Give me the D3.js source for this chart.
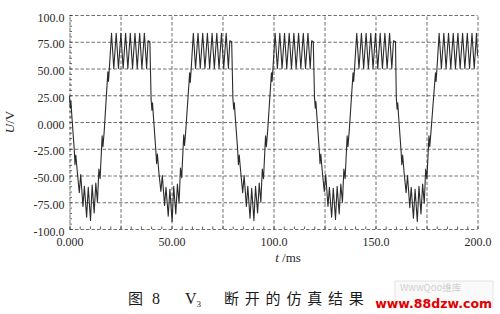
<!DOCTYPE html>
<html>
<head>
<meta charset="utf-8">
<script src="https://cdn.jsdelivr.net/npm/d3@7"></script>
<style>
body { margin: 0; background: #fff; }
.axis text { font-family: "Liberation Serif", "DejaVu Serif", serif; font-size: 12px; fill: #2a2a2a; }
.axis line { stroke: #333; stroke-width: 0.8; }
.axis path { display: none; }
.grid line { stroke: #4a4a4a; stroke-width: 0.8; stroke-dasharray: 3.5,2; }
.grid path { display: none; }
.wave { fill: none; stroke: #2b2b2b; stroke-width: 1.1; stroke-linejoin: round; }
</style>
</head>
<body>
<svg id="chart"></svg>
<script>
// tick values + labels
const timeTicks = [0, 50, 100, 150, 200];
const timeLabels = ['0.000', '50.00', '100.0', '150.0', '200.0'];
const voltTicks = [-100, -75, -50, -25, 0, 25, 50, 75, 100];
const voltLabels = ['-100.0', '-75.00', '-50.00', '-25.00', '0.000', '25.00', '50.00', '75.00', '100.0'];
const gridTime = [25, 50, 75, 100, 125, 150, 175, 200];
const gridVolt = [-75, -50, -25, 0, 25, 50, 75, 100];

// waveform [t ms, U V], one array per 40 ms cycle
const cycle1 = [[0.0, 24], [0.4, 13], [0.7, 19], [1.1, 7], [2.3, -25], [2.7, -40], [3.1, -31], [3.8, -46], [4.8, -66], [5.5, -49], [6.6, -79], [7.3, -60], [8.4, -89], [9.2, -61], [10.3, -92], [11.1, -59], [12.1, -85], [12.9, -57], [13.7, -75], [14.4, -44], [15.0, -53], [16.0, -13], [16.4, -23], [17.0, -9], [18.8, 47], [19.1, 38], [19.6, 52], [20.6, 83], [21.7, 50], [22.9, 83], [24.0, 50], [25.2, 83], [26.3, 50], [27.5, 83], [28.6, 50], [29.8, 83], [30.9, 50], [32.1, 83], [33.2, 50], [34.4, 83], [35.5, 50], [36.7, 83], [37.8, 50], [38.5, 76], [39.4, 75]];
const cycle2 = [[40.0, 21], [40.4, 11], [40.7, 18], [41.1, 6], [42.3, -26], [42.7, -39], [43.1, -30], [43.8, -47], [44.8, -65], [45.5, -50], [46.6, -78], [47.3, -61], [48.4, -88], [49.2, -63], [50.3, -93], [51.1, -60], [52.1, -86], [52.9, -58], [53.7, -76], [54.4, -43], [55.0, -52], [56.0, -12], [56.4, -22], [57.0, -8], [58.9, 46], [59.2, 37], [59.7, 51], [60.7, 83], [61.8, 50], [63.0, 83], [64.1, 50], [65.3, 83], [66.4, 50], [67.6, 83], [68.7, 50], [69.9, 83], [71.0, 50], [72.2, 83], [73.3, 50], [74.5, 83], [75.6, 50], [76.8, 83], [77.9, 50], [78.6, 76], [79.5, 75]];
const cycle3 = [[80.1, 22], [80.5, 12], [80.8, 18], [81.2, 6], [82.4, -25], [82.8, -40], [83.2, -31], [83.9, -46], [84.9, -66], [85.6, -50], [86.7, -79], [87.4, -60], [88.5, -90], [89.3, -62], [90.4, -92], [91.2, -60], [92.2, -85], [93.0, -57], [93.8, -75], [94.5, -44], [95.1, -53], [96.1, -13], [96.5, -23], [97.1, -9], [99.0, 46], [99.3, 38], [99.8, 52], [100.8, 83], [101.9, 50], [103.1, 83], [104.2, 50], [105.4, 83], [106.5, 50], [107.7, 83], [108.8, 50], [110.0, 83], [111.1, 50], [112.3, 83], [113.4, 50], [114.6, 83], [115.7, 50], [116.9, 83], [118.0, 50], [118.7, 76], [119.5, 75]];
const cycle4 = [[120.1, 23], [120.5, 13], [120.8, 19], [121.2, 7], [122.4, -25], [122.8, -39], [123.2, -30], [123.9, -46], [124.9, -65], [125.6, -49], [126.7, -79], [127.4, -61], [128.5, -89], [129.3, -62], [130.4, -91], [131.2, -60], [132.2, -86], [133.0, -58], [133.8, -75], [134.5, -44], [135.1, -53], [136.1, -13], [136.5, -23], [137.1, -9], [139.0, 46], [139.3, 38], [139.8, 52], [140.8, 83], [141.9, 50], [143.1, 83], [144.2, 50], [145.4, 83], [146.5, 50], [147.7, 83], [148.8, 50], [150.0, 83], [151.1, 50], [152.3, 83], [153.4, 50], [154.6, 83], [155.7, 50], [156.9, 83], [158.0, 50], [158.8, 76], [159.8, 75]];
const cycle5 = [[160.2, 22], [160.6, 12], [160.9, 18], [161.3, 6], [162.5, -26], [162.9, -40], [163.3, -31], [164.0, -47], [165.0, -66], [165.7, -50], [166.8, -80], [167.5, -61], [168.6, -90], [169.4, -63], [170.5, -93], [171.3, -60], [172.3, -86], [173.1, -58], [173.9, -76], [174.6, -44], [175.2, -53], [176.2, -13], [176.6, -23], [177.2, -9], [179.4, 46], [179.7, 38], [180.2, 52], [181.2, 83], [182.3, 50], [183.5, 83], [184.6, 50], [185.8, 83], [186.9, 50], [188.1, 83], [189.2, 50], [190.4, 83], [191.5, 50], [192.7, 83], [193.8, 50], [195.0, 83], [196.1, 50], [197.3, 83], [198.4, 50], [199.5, 83], [200.0, 62]];

class WaveChart {
    constructor(_config, _data) {
        this.config = {
            parentElement: _config.parentElement,
            containerWidth: _config.containerWidth || 500,
            containerHeight: _config.containerHeight || 314,
            margin: _config.margin || { top: 15, right: 22.5, bottom: 85, left: 69.5 }
        };
        this.data = _data;
        this.initApp();
    }
    initApp() {
        let app = this;
        app.width = app.config.containerWidth - app.config.margin.left - app.config.margin.right;
        app.height = app.config.containerHeight - app.config.margin.top - app.config.margin.bottom;
        app.xScale = d3.scaleLinear().domain([0, 200]).range([0, app.width]);
        app.yScale = d3.scaleLinear().domain([-100, 100]).range([app.height, 0]);
        app.svg = d3.select(app.config.parentElement)
            .attr('width', app.config.containerWidth)
            .attr('height', app.config.containerHeight);
        app.svg.append('rect').attr('width', app.config.containerWidth).attr('height', app.config.containerHeight).attr('fill', '#fff');
        app.chart = app.svg.append('g').attr('transform', `translate(${app.config.margin.left},${app.config.margin.top})`);
        app.renderApp();
    }
    renderApp() {
        let app = this;
        // dashed grid, includes top/right border
        app.chart.append('g').attr('class', 'grid')
            .call(d3.axisLeft(app.yScale).tickValues(gridVolt).tickSize(-app.width).tickFormat(''));
        app.chart.append('g').attr('class', 'grid')
            .attr('transform', `translate(0,${app.height})`)
            .call(d3.axisBottom(app.xScale).tickValues(gridTime).tickSize(-app.height).tickFormat(''));
        // dashed axis lines
        app.chart.append('g').attr('class', 'grid')
            .call(d3.axisLeft(app.yScale).tickValues([-100]).tickSize(-app.width).tickFormat(''));
        app.chart.append('g').attr('class', 'grid')
            .attr('transform', `translate(0,${app.height})`)
            .call(d3.axisBottom(app.xScale).tickValues([0]).tickSize(-app.height).tickFormat(''));

        // minor ticks pointing inward
        app.chart.append('g').attr('class', 'axis')
            .call(d3.axisLeft(app.yScale).tickValues(d3.range(-100, 101, 5)).tickSize(-2.5).tickFormat(''));
        app.chart.append('g').attr('class', 'axis')
            .attr('transform', `translate(0,${app.height})`)
            .call(d3.axisBottom(app.xScale).tickValues(d3.range(0, 201, 5)).tickSize(-2.5).tickFormat(''));

        // labels
        app.chart.append('g').attr('class', 'axis')
            .call(d3.axisLeft(app.yScale).tickValues(voltTicks).tickSize(0).tickPadding(5)
                .tickFormat((d, i) => voltLabels[i]))
            .selectAll('text').attr('dy', '0.5em');
        app.chart.append('g').attr('class', 'axis')
            .attr('transform', `translate(0,${app.height})`)
            .call(d3.axisBottom(app.xScale).tickValues(timeTicks).tickSize(0).tickPadding(8)
                .tickFormat((d, i) => timeLabels[i]));

        // waveform
        app.line = d3.line().x(d => app.xScale(d[0])).y(d => app.yScale(d[1]));
        app.chart.append('path').datum(app.data).attr('class', 'wave').attr('d', app.line);

        // axis titles
        const yt = app.svg.append('text')
            .attr('transform', 'translate(14,122) rotate(-90)')
            .attr('text-anchor', 'middle')
            .style('font-family', '"Liberation Serif", serif').style('font-size', '13px').style('fill', '#2a2a2a');
        yt.append('tspan').style('font-style', 'italic').text('U');
        yt.append('tspan').text('/V');
        const xt = app.svg.append('text')
            .attr('x', 288).attr('y', 262)
            .attr('text-anchor', 'middle')
            .style('font-family', '"Liberation Serif", serif').style('font-size', '13px').style('fill', '#2a2a2a');
        xt.append('tspan').style('font-style', 'italic').text('t');
        xt.append('tspan').text(' /ms');

        // caption
        const cap = app.svg.append('g').style('fill', '#1a1a1a');
        cap.append('text').attr('x', 128).attr('y', 304)
            .style('font-family', '"Noto Sans CJK SC", sans-serif').style('font-size', '15px').text('图');
        cap.append('text').attr('x', 152).attr('y', 304)
            .style('font-family', '"Liberation Serif", serif').style('font-size', '16px').text('8');
        const v3 = cap.append('text').attr('x', 185).attr('y', 304)
            .style('font-family', '"Liberation Serif", serif').style('font-size', '16px');
        v3.append('tspan').text('V');
        v3.append('tspan').attr('dy', 3).style('font-size', '9px').text('3');
        cap.append('text').attr('x', 224).attr('y', 304)
            .style('font-family', '"Noto Sans CJK SC", sans-serif').style('font-size', '15px')
            .style('letter-spacing', '5.8px').text('断开的仿真结果');

        // watermark (faint logo box behind the red url)
        app.svg.append('rect').attr('x', 395).attr('y', 281).attr('width', 98).attr('height', 26)
            .attr('fill', '#fafafa').attr('stroke', '#ddd').attr('stroke-width', 0.8);
        app.svg.append('text').attr('x', 400).attr('y', 291)
            .style('font-family', '"Noto Sans CJK SC", sans-serif').style('font-size', '9.5px').style('fill', '#d0d0d0')
            .text('WwwQoo维库');
        app.svg.append('text').attr('x', 492).attr('y', 308).attr('text-anchor', 'end')
            .style('font-family', '"DejaVu Sans", sans-serif').style('font-weight', 'bold').style('font-size', '12.5px')
            .style('fill', '#e00000').text('www.88dzw.com');
    }
}

const waveData = [].concat(cycle1, cycle2, cycle3, cycle4, cycle5);
new WaveChart({ parentElement: '#chart' }, waveData);
</script>
</body>
</html>
